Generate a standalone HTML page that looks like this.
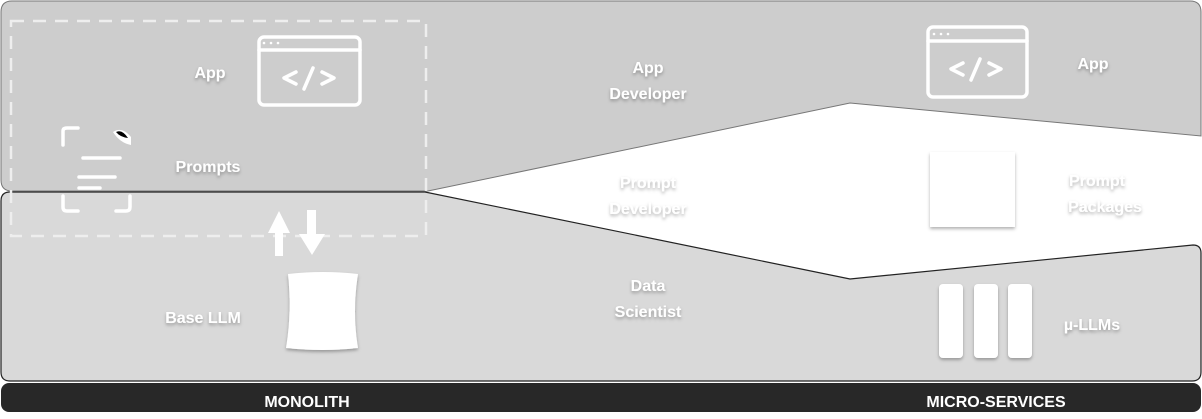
<!DOCTYPE html>
<html><head><meta charset="utf-8"><style>
body{margin:0;width:1202px;height:414px;background:#fff;overflow:hidden}
svg text{font-family:"Liberation Sans",sans-serif;font-weight:bold;font-size:16px;fill:#fff}
</style></head><body>
<svg width="1202" height="414" viewBox="0 0 1202 414" xmlns="http://www.w3.org/2000/svg">
<defs><filter id="s" x="-20%" y="-20%" width="140%" height="140%"><feDropShadow dx="0" dy="2" stdDeviation="1.5" flood-color="#000" flood-opacity="0.3"/></filter></defs>
<path d="M10,192 H425 L850,279 L1193,245 Q1201,245 1201,253 V372 Q1201,381 1192,381 H10 Q1,381 1,372 V201 Q1,192 10,192 Z" fill="#d9d9d9" stroke="#222" stroke-width="1.2"/>
<path d="M1,12 Q1,1 12,1 H1190 Q1201,1 1201,12 V136 L850,103 L428,191 H12 Q1,191 1,180 Z" fill="#cdcdcd" stroke="#777" stroke-width="1"/>
<rect x="11" y="21" width="415" height="215" fill="none" stroke="#eee" stroke-width="2.5" stroke-dasharray="13,9"/>
<rect x="1" y="383" width="1200" height="29" rx="8" fill="#282828"/>
<text x="307" y="407" text-anchor="middle" font-size="14">MONOLITH</text>
<text x="996" y="407" text-anchor="middle" font-size="14">MICRO-SERVICES</text>
<g filter="url(#s)">
<text x="210" y="78" text-anchor="middle">App</text>
<text x="208" y="172" text-anchor="middle">Prompts</text>
<text x="203" y="323" text-anchor="middle">Base LLM</text>
<text x="648" y="73" text-anchor="middle">App</text>
<text x="648" y="99" text-anchor="middle">Developer</text>
<text x="648" y="188" text-anchor="middle">Prompt</text>
<text x="648" y="214" text-anchor="middle">Developer</text>
<text x="648" y="291" text-anchor="middle">Data</text>
<text x="648" y="317" text-anchor="middle">Scientist</text>
<text x="1093" y="69" text-anchor="middle">App</text>
<text x="1097" y="186" text-anchor="middle">Prompt</text>
<text x="1105" y="212" text-anchor="middle">Packages</text>
<text x="1092" y="330" text-anchor="middle">µ-LLMs</text>
<path d="M288,274 Q323,270 358,274 Q352,312 358,348 Q323,352 286,348 Q292,312 288,274 Z" fill="#fff"/>
<rect x="930" y="152" width="85" height="75" fill="#fff"/>
<rect x="939" y="284" width="24" height="74" rx="4" fill="#fff"/>
<rect x="974" y="284" width="24" height="74" rx="4" fill="#fff"/>
<rect x="1008" y="284" width="24" height="74" rx="4" fill="#fff"/>
</g>
<g fill="none" stroke="#fff" stroke-width="3.5" stroke-linecap="round" stroke-linejoin="round">
<rect x="259" y="37" width="101" height="68" rx="5"/><line x1="259" y1="50" x2="360" y2="50"/>
<polyline points="296,72 284,78 296,84"/><polyline points="322,72 334,78 322,84"/><line x1="313" y1="68" x2="304" y2="89"/>
<rect x="928" y="27" width="99" height="70" rx="5"/><line x1="928" y1="41" x2="1027" y2="41"/>
<polyline points="963,63 951,69 963,75"/><polyline points="989,63 1001,69 989,75"/><line x1="980" y1="59" x2="971" y2="80"/>
<path d="M63,145 V131 Q63,128 67,128 H78"/><path d="M63,196 V207 Q63,211 67,211 H78"/><path d="M130,196 V207 Q130,211 126,211 H116"/>
<line x1="83" y1="158" x2="120" y2="158"/><line x1="79" y1="177" x2="115" y2="177"/><line x1="79" y1="188" x2="100" y2="188"/>
</g>
<g fill="#fff"><circle cx="264" cy="43" r="1.3"/><circle cx="271" cy="43" r="1.3"/><circle cx="278" cy="43" r="1.3"/>
<circle cx="934" cy="34" r="1.3"/><circle cx="941" cy="34" r="1.3"/><circle cx="948" cy="34" r="1.3"/>
<path d="M113,132 Q122,126 131,137 L131,145 Q120,143 113,132 Z"/>
<path d="M275,256 V233 H268 L279,211 L290,233 H283 V256 Z"/>
<path d="M307,210 V234 H299 L312,255 L325,234 H316 V210 Z"/>
</g>
<path d="M116,132 Q122,129 128,138 Q120,137 116,132 Z" fill="#000"/>
<g fill="none" stroke="#fff" stroke-width="2">
<path d="M843,131 V120 M840,122 L843,118 L846,122"/><path d="M863,116 V130 M859,126 L863,132 L867,126"/>
<path d="M843,272 V260 M840,262 L843,258 L846,262"/><path d="M863,256 V270 M859,266 L863,272 L867,266"/>
</g>
</svg>
</body></html>
